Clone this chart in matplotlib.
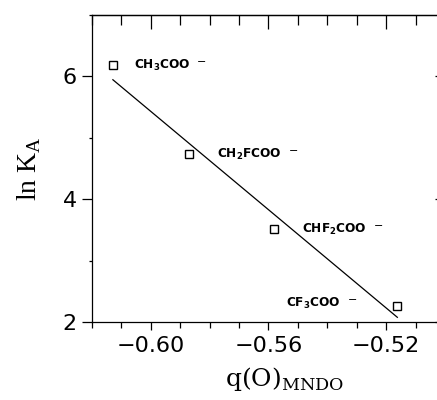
import numpy as np
import matplotlib.pyplot as plt
from matplotlib.ticker import MultipleLocator

# ── Data ───────────────────────────────────────────────────────────────────────
q_o = [-0.6129, -0.5870, -0.5580, -0.5162]   # q(O) MNDO charge
ln_ka = [6.18, 4.73, 3.51, 2.26]              # ln K_A
labels = [r"CH$_\mathregular{3}$COO", r"CH$_\mathregular{2}$FCOO",
          r"CHF$_\mathregular{2}$COO", r"CF$_\mathregular{3}$COO"]
x_ticks = [-0.60, -0.56, -0.52]
y_ticks = [2, 4, 6]

# label placement (offset in points from the marker)
label_off = [(15, 0), (20, 0), (20, 0), (-80, 2)]

# ── Figure ─────────────────────────────────────────────────────────────────────
fig = plt.figure(figsize=(4.37, 4.0), dpi=100)
ax = fig.add_axes([92 / 437, 78 / 400, 353 / 437, 307 / 400])
ax.set_xlim(-0.62, -0.50)
ax.set_ylim(2, 7)

ax.plot(q_o, ln_ka, "s", ms=6, mfc="none", mec="black", mew=1.0)

# least-squares line across the data range
slope, icpt = np.polyfit(q_o, ln_ka, 1)
xs = np.array([min(q_o), max(q_o)])
ax.plot(xs, slope * xs + icpt, color="black", lw=0.9)

for x, y, t, off in zip(q_o, ln_ka, labels, label_off):
    txt = ax.annotate(t, xy=(x, y), xytext=off, textcoords="offset points",
                      family="DejaVu Sans", fontsize=8.7, fontweight="bold",
                      va="center", ha="left")
    ax.annotate("\u2212", xy=(1, 0.5), xycoords=txt, xytext=(5, 2.5),
                textcoords="offset points", ha="left", va="center",
                fontsize=8)

# bottom / left ticks point outward
ax.set_xticks(x_ticks)
ax.set_xticklabels([f"\u2212{abs(v):.2f}" for v in x_ticks])
ax.set_yticks(y_ticks)
ax.xaxis.set_minor_locator(MultipleLocator(0.01))
ax.yaxis.set_minor_locator(MultipleLocator(1))
ax.tick_params(which="both", direction="out", width=0.9, labelsize=16, pad=4)
ax.tick_params(axis="x", which="major", length=6)
ax.tick_params(axis="x", which="minor", length=4)
ax.tick_params(axis="y", which="major", length=7)
ax.tick_params(axis="y", which="minor", length=2)
for lab in ax.get_xticklabels() + ax.get_yticklabels():
    lab.set_family("DejaVu Sans")

# top / right ticks point inward
top = ax.secondary_xaxis("top")
top.set_xticks(x_ticks)
top.xaxis.set_minor_locator(MultipleLocator(0.01))
top.tick_params(which="both", direction="in", width=0.9, labeltop=False)
top.tick_params(which="major", length=10)
top.tick_params(which="minor", length=7)
right = ax.secondary_yaxis("right")
right.set_yticks(y_ticks)
right.yaxis.set_minor_locator(MultipleLocator(1))
right.tick_params(which="both", direction="in", width=0.9, labelright=False)
right.tick_params(which="major", length=7)
right.tick_params(which="minor", length=3)

for sp in list(ax.spines.values()) + [top.spines["top"], right.spines["right"]]:
    sp.set_linewidth(0.9)

ax.set_ylabel(r"ln K$_\mathregular{A}$", family="Liberation Serif", fontsize=20, labelpad=14)
ax.set_xlabel(r"q(O)$_\mathregular{MNDO}$", family="DejaVu Serif", fontsize=18)
ax.xaxis.set_label_coords(0.5 + 16 / 353, -0.14)

fig.savefig("out.png", dpi=100)
